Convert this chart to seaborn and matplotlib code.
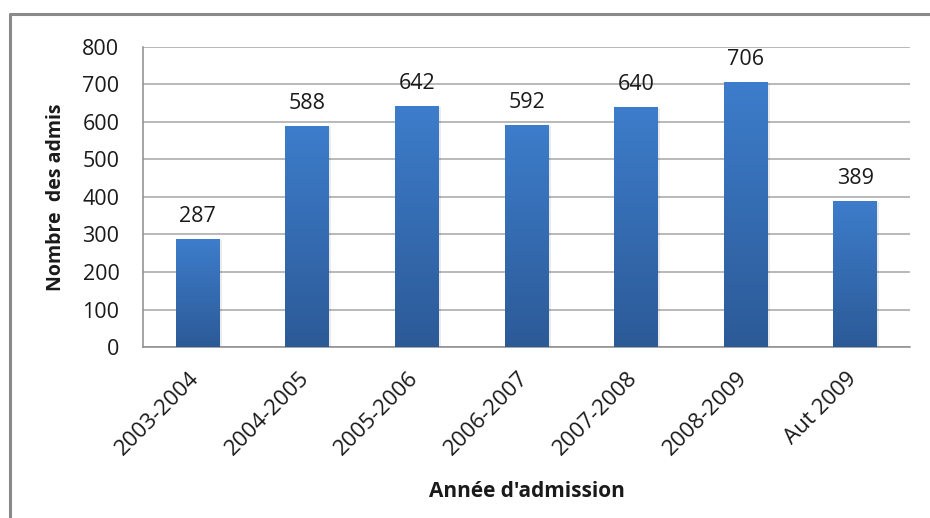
import matplotlib
matplotlib.use("Agg")
import matplotlib.pyplot as plt
from matplotlib.colors import LinearSegmentedColormap
from matplotlib.patches import Rectangle
from matplotlib.lines import Line2D
from matplotlib.transforms import ScaledTranslation
import numpy as np
import pandas as pd
import seaborn as sns

# data
annees = ['2003-2004', '2004-2005', '2005-2006', '2006-2007',
          '2007-2008', '2008-2009', 'Aut 2009']
admis = [287, 588, 642, 592, 640, 706, 389]

df = pd.DataFrame({'annee': annees, 'admis': admis})

sns.set_style("white")
plt.rcParams['font.family'] = ['Open Sans', 'DejaVu Sans']

fig = plt.figure(figsize=(9.3, 5.18), dpi=100)
ax = fig.add_axes([0.1538, 0.3301, 0.8247, 0.5792])

sns.barplot(data=df, x='annee', y='admis', color='#3a74bd', width=0.4,
            saturation=1, ax=ax, zorder=3)

# gradient fill on each bar (light at top, darker at bottom)
cmap = LinearSegmentedColormap.from_list('bar', ['#2c5a97', '#3d7dcb'])
grad = np.linspace(0, 1, 256).reshape(-1, 1)
for p in ax.patches:
    x0, y0 = p.get_x(), p.get_y()
    w, h = p.get_width(), p.get_height()
    # faint shadow
    sh = Rectangle((x0 + 0.02, y0), w, h - 2, facecolor='#000000', alpha=0.08,
                   edgecolor='none', zorder=2)
    ax.add_patch(sh)
    im = ax.imshow(grad, extent=[x0, x0 + w, y0, y0 + h], origin='lower',
                   cmap=cmap, aspect='auto', zorder=3.5)
    im.set_clip_path(p)
    p.set_facecolor('none')
    p.set_edgecolor('none')

# value labels
for i, v in enumerate(admis):
    ax.text(i, v + 60, str(v), ha='center', va='center', fontsize=15.5,
            color='#1a1a1a', zorder=5)

ax.set_xlim(-0.5, len(annees) - 0.5)
ax.set_ylim(0, 800)
ax.set_yticks(range(0, 801, 100))
ax.yaxis.grid(True, color='#a6a6a6', linewidth=1.1, zorder=0)
ax.set_axisbelow(True)

for s in ['top', 'right']:
    ax.spines[s].set_visible(False)
for s in ['left', 'bottom']:
    ax.spines[s].set_color('#8c8c8c')
    ax.spines[s].set_linewidth(1.1)

ax.tick_params(axis='y', which='major', direction='out', length=8,
               width=1.1, color='#8c8c8c', labelsize=15.5, labelcolor='#1a1a1a', pad=9)
ax.set_xticks(np.arange(len(annees)))
ax.set_xticklabels(annees, rotation=45, ha='right', va='top',
                   rotation_mode='anchor', fontsize=16, color='#1a1a1a')
ax.tick_params(axis='x', which='major', length=0, pad=15)
ax.set_xticks(np.arange(-0.5, len(annees), 1.0), minor=True)
ax.tick_params(axis='x', which='minor', direction='out', length=7,
               width=1.1, color='#8c8c8c')

# nudge rotated labels to the left
shift = ScaledTranslation(-9 / 100, 0, fig.dpi_scale_trans)
for lab in ax.get_xticklabels():
    lab.set_transform(lab.get_transform() + shift)

ax.set_xlabel("Année d'admission", fontsize=15, fontweight='bold',
              color='#1a1a1a')
ax.set_ylabel("Nombre  des admis", fontsize=14, fontweight='bold',
              color='#1a1a1a')
ax.xaxis.set_label_coords(0.5, -0.445)
ax.yaxis.set_label_coords(-0.100, 0.5)

# outer frame (cropped on right and bottom)
fig.add_artist(Line2D([10 / 930, 1.0], [1 - 14 / 518, 1 - 14 / 518],
                      color='#8a8a8a', linewidth=2.2, transform=fig.transFigure))
fig.add_artist(Line2D([10 / 930, 10 / 930], [0.0, 1 - 14 / 518],
                      color='#8a8a8a', linewidth=2.2, transform=fig.transFigure))

plt.savefig('out.png', dpi=100)
